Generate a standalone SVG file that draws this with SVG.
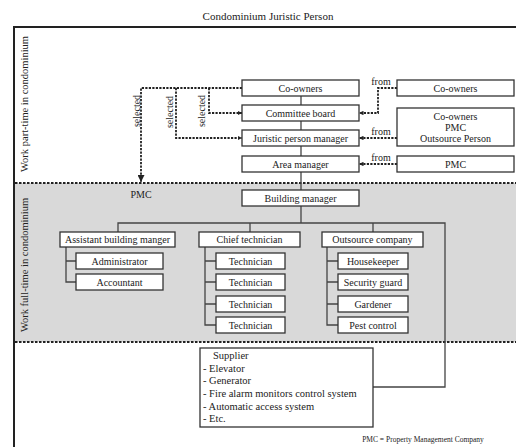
<svg xmlns="http://www.w3.org/2000/svg" width="516" height="447" viewBox="0 0 516 447" font-family="'Liberation Serif', 'Times New Roman', serif">
<style>
text{font-family:"Liberation Serif","Times New Roman",serif;fill:#222}
.t{font-size:10px;text-anchor:middle}
.b{fill:#fff;stroke:#333;stroke-width:1.3}
.c{fill:none;stroke:#444;stroke-width:1.3}
.d{fill:none;stroke:#222;stroke-width:1.8;stroke-dasharray:2.2,1.3}
.sep{fill:none;stroke:#222;stroke-width:2;stroke-dasharray:2.5,1.5}
</style>
<defs>
<marker id="ah" viewBox="0 0 10 10" refX="10" refY="5" markerWidth="4.5" markerHeight="4.5" orient="auto" markerUnits="userSpaceOnUse">
<path d="M0,0 L10,5 L0,10 z" fill="#222"/>
</marker>
<marker id="ah2" viewBox="0 0 10 10" refX="10" refY="5" markerWidth="7" markerHeight="7" orient="auto" markerUnits="userSpaceOnUse">
<path d="M0,0 L10,5 L0,10 z" fill="#222"/>
</marker>
</defs>
<rect x="0" y="0" width="516" height="447" fill="#fff"/>
<text x="268" y="20" style="font-size:11px;text-anchor:middle">Condominium Juristic Person</text>
<rect x="15" y="183" width="501" height="159" fill="#d9d9d9"/>
<path d="M14,447 V27 H516" fill="none" stroke="#222" stroke-width="2"/>
<path class="sep" d="M15,183 H516"/>
<path class="sep" d="M15,342 H516"/>
<text transform="translate(28,104) rotate(-90)" style="font-size:10.5px;text-anchor:middle">Work part-time in condominium</text>
<text transform="translate(28,265) rotate(-90)" style="font-size:10.5px;text-anchor:middle">Work full-time in condominium</text>
<text x="141" y="198" class="t">PMC</text>
<g id="connectors">
<path class="c" d="M301,96 V223"/>
<path class="c" d="M118,232 V223 H445 V387 H373"/>
<path class="c" d="M250,223 V232"/>
<path class="c" d="M373,223 V232"/>
<path class="c" d="M66,247 V282 H76 M66,261 H76"/>
<path class="c" d="M205,247 V325 H216 M205,261 H216 M205,282 H216 M205,304 H216"/>
<path class="c" d="M327,247 V325 H338 M327,261 H338 M327,282 H338 M327,304 H338"/>
<path class="d" d="M242,88 H141 V182" marker-end="url(#ah2)"/>
<path class="d" d="M176,88 V138 H242" marker-end="url(#ah)"/>
<path class="d" d="M209,88 V113 H242" marker-end="url(#ah)"/>
<path class="d" d="M397,88 H378 V113 H359" marker-end="url(#ah)"/>
<path class="d" d="M397,138 H359" marker-end="url(#ah)"/>
<path class="d" d="M397,164 H359" marker-end="url(#ah)"/>
<text transform="translate(139.5,111) rotate(-90)" class="t">selected</text>
<text transform="translate(173,112) rotate(-90)" class="t">selected</text>
<text transform="translate(205,111) rotate(-90)" class="t">selected</text>
<text x="381" y="85" class="t">from</text>
<text x="381" y="135" class="t">from</text>
<text x="381" y="161" class="t">from</text>
</g>
<g id="coowners"><rect class="b" x="242" y="80" width="117" height="16"/><text x="300.5" y="91.5" class="t">Co-owners</text></g>
<g id="committee"><rect class="b" x="242" y="105" width="117" height="16"/><text x="300.5" y="116.5" class="t">Committee board</text></g>
<g id="juristic"><rect class="b" x="242" y="130" width="117" height="16"/><text x="300.5" y="141.5" class="t">Juristic person manager</text></g>
<g id="area"><rect class="b" x="242" y="156" width="117" height="16"/><text x="300.5" y="167.5" class="t">Area manager</text></g>
<g id="src-coowners"><rect class="b" x="397" y="80" width="117" height="16"/><text x="455.5" y="91.5" class="t">Co-owners</text></g>
<g id="src-juristic"><rect class="b" x="397" y="108" width="117" height="38"/><text x="455.5" y="119.5" class="t">Co-owners</text><text x="455.5" y="130.5" class="t">PMC</text><text x="455.5" y="141.5" class="t">Outsource Person</text></g>
<g id="src-pmc"><rect class="b" x="397" y="156" width="117" height="16"/><text x="455.5" y="167.5" class="t">PMC</text></g>
<g id="building"><rect class="b" x="242" y="190" width="117" height="16"/><text x="300.5" y="201.5" class="t">Building manager</text></g>
<g id="assistant"><rect class="b" x="60" y="232" width="115" height="15"/><text x="117.5" y="243" class="t">Assistant building manger</text></g>
<g id="chief"><rect class="b" x="199" y="232" width="101" height="15"/><text x="249.5" y="243" class="t">Chief technician</text></g>
<g id="outsource"><rect class="b" x="322" y="232" width="101" height="15"/><text x="372.5" y="243" class="t">Outsource company</text></g>
<g id="administrator"><rect class="b" x="76" y="253" width="87" height="16"/><text x="119.5" y="264.5" class="t">Administrator</text></g>
<g id="accountant"><rect class="b" x="76" y="274" width="87" height="16"/><text x="119.5" y="285.5" class="t">Accountant</text></g>
<g id="tech1"><rect class="b" x="216" y="253" width="69" height="16"/><text x="250.5" y="264.5" class="t">Technician</text></g>
<g id="tech2"><rect class="b" x="216" y="274" width="69" height="16"/><text x="250.5" y="285.5" class="t">Technician</text></g>
<g id="tech3"><rect class="b" x="216" y="296" width="69" height="16"/><text x="250.5" y="307.5" class="t">Technician</text></g>
<g id="tech4"><rect class="b" x="216" y="317" width="69" height="16"/><text x="250.5" y="328.5" class="t">Technician</text></g>
<g id="housekeeper"><rect class="b" x="338" y="253" width="70" height="16"/><text x="373" y="264.5" class="t">Housekeeper</text></g>
<g id="security"><rect class="b" x="338" y="274" width="70" height="16"/><text x="373" y="285.5" class="t">Security guard</text></g>
<g id="gardener"><rect class="b" x="338" y="296" width="70" height="16"/><text x="373" y="307.5" class="t">Gardener</text></g>
<g id="pest"><rect class="b" x="338" y="317" width="70" height="16"/><text x="373" y="328.5" class="t">Pest control</text></g>
<g id="supplier"><rect class="b" x="200" y="348" width="173" height="79"/>
<text x="213" y="358.5" style="font-size:10.5px">Supplier</text>
<text x="203" y="371.5" style="font-size:10.5px">- Elevator</text>
<text x="203" y="384" style="font-size:10.5px">- Generator</text>
<text x="203" y="397" style="font-size:10.5px">- Fire alarm monitors control system</text>
<text x="203" y="409.5" style="font-size:10.5px">- Automatic access system</text>
<text x="203" y="422" style="font-size:10.5px">- Etc.</text>
</g>
<text x="423" y="442" style="font-size:7.5px;text-anchor:middle">PMC = Property Management Company</text>
</svg>
